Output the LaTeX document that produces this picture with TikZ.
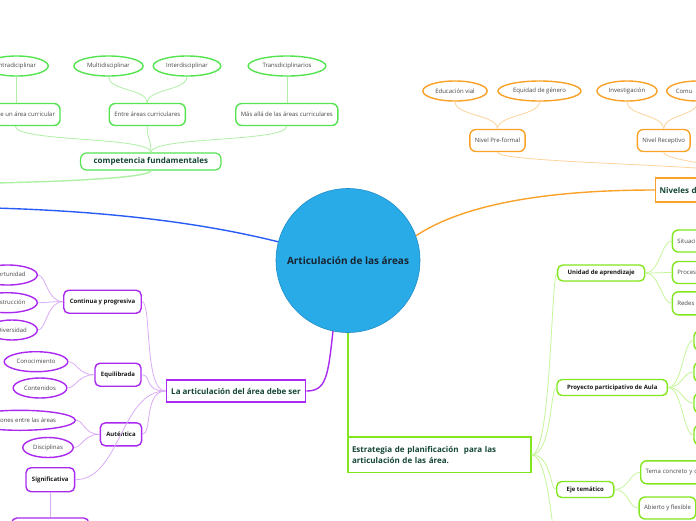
\documentclass[tikz,border=0pt]{standalone}
\usepackage{fontspec}
\setmainfont{Open Sans}
\usetikzlibrary{shapes.geometric}
\definecolor{raizazul}{RGB}{41,171,232}
\definecolor{raizborde}{RGB}{30,140,200}
\definecolor{textoraiz}{RGB}{25,35,45}
\definecolor{textotema}{RGB}{20,70,55}
\definecolor{textosub}{RGB}{25,25,25}
\definecolor{textohoja}{RGB}{70,70,70}
\definecolor{verde}{RGB}{85,228,80}
\definecolor{verdeclaro}{RGB}{175,240,165}
\definecolor{naranja}{RGB}{250,162,40}
\definecolor{naranjaclaro}{RGB}{252,212,155}
\definecolor{morado}{RGB}{170,40,240}
\definecolor{moradoclaro}{RGB}{218,172,246}
\definecolor{azul}{RGB}{40,92,245}
\definecolor{lima}{RGB}{130,230,30}
\definecolor{limaclaro}{RGB}{198,245,155}
\begin{document}
\begin{tikzpicture}[x=1pt, y=-1pt,
  raiz/.style={circle, fill=raizazul, draw=raizborde, line width=0.6pt, minimum size=144pt, inner sep=0pt, text=textoraiz, font=\bfseries\fontsize{10}{12}\selectfont},
  tema/.style={draw, line width=1.2pt, fill=white, text=textotema, inner xsep=5pt, inner ysep=0pt, minimum height=22pt, font=\bfseries\fontsize{8}{11}\selectfont},
  sub/.style={draw, rounded corners=5pt, line width=1.4pt, fill=white, text=textosub, inner xsep=6pt, inner ysep=0pt, minimum height=23pt, font=\bfseries\fontsize{6}{7.5}\selectfont},
  hoja/.style={draw, rounded corners=6pt, line width=1.4pt, fill=white, text=textohoja, inner xsep=5pt, inner ysep=0pt, minimum height=22pt, font=\fontsize{6}{7.5}\selectfont},
  ovalo/.style={ellipse, draw, line width=1.4pt, fill=white, text=textohoja, inner xsep=3pt, inner ysep=0pt, minimum height=20pt, font=\fontsize{6}{7.5}\selectfont},
  rama/.style={line width=1.4pt},
  enlace/.style={line width=0.8pt},
]
\useasboundingbox (0,0) rectangle (696,520);
\fill[white] (0,0) rectangle (696,520);
\clip (0,0) rectangle (696,520);

% Tema central
\node[raiz] (raiz) at (348,260.5) {Articulación de las áreas};

% Rama verde: competencia fundamentales
\node[tema, draw=verde, rounded corners=6pt, minimum height=17pt, inner xsep=13pt] (comp) at (150.8,161.5) {competencia fundamentales};
\node[hoja, draw=verde, anchor=east] (dentro) at (60.7,114.5) {Dentro de un área curricular};
\node[hoja, draw=verde] (entre) at (147.3,114.5) {Entre áreas curriculares};
\node[hoja, draw=verde] (mas) at (286.8,114.5) {Más allá de las áreas curriculares};
\node[ovalo, draw=verde, anchor=east] (intra) at (49,66) {Intradiciplinar};
\node[ovalo, draw=verde] (multi) at (108.5,66) {Multidisciplinar};
\node[ovalo, draw=verde] (inter) at (187,66) {Interdisciplinar};
\node[ovalo, draw=verde] (trans) at (287,66) {Transdiciplinarios};
\coordinate (compfin) at (-80,184);
\draw[enlace, verdeclaro] (intra.south) -- (intra.south |- dentro.north);
\draw[enlace, verdeclaro] (multi.south) .. controls +(0,14) and +(0,-14) .. (entre.north);
\draw[enlace, verdeclaro] (inter.south) .. controls +(0,14) and +(0,-14) .. (entre.north);
\draw[enlace, verdeclaro] (trans.south) -- (trans.south |- mas.north);
\draw[enlace, verdeclaro] (dentro.south) .. controls +(0,16) and +(0,-16) .. (comp.north);
\draw[enlace, verdeclaro] (entre.south) .. controls +(0,16) and +(0,-16) .. (comp.north);
\draw[enlace, verdeclaro] (mas.south) .. controls +(0,16) and +(0,-16) .. (comp.north);
\draw[rama, verdeclaro] (comp.south) .. controls +(0,10) and +(60,0) .. (compfin);

% Rama azul
\coordinate (azulfin) at (-80,207);
\draw[rama, azul] (raiz.165) .. controls +(-120,-30) and +(100,0) .. (azulfin);

% Rama naranja: niveles
\node[tema, draw=naranja, anchor=west, text width=110pt, align=left, inner xsep=4pt, minimum height=24pt] (niv) at (655,190) {Niveles de};
\draw[rama, naranja] (raiz.20) .. controls +(60,-40) and +(-70,0) .. (niv.west);
\node[hoja, draw=naranja] (pre) at (497.5,140.5) {Nivel Pre-formal};
\node[hoja, draw=naranja] (rec) at (663.7,140.5) {Nivel Receptivo};
\node[ovalo, draw=naranja] (vial) at (455,91) {Educación vial};
\node[ovalo, draw=naranja] (equi) at (539.5,91) {Equidad de género};
\node[ovalo, draw=naranja] (inv) at (627,91) {Investigación};
\node[ovalo, draw=naranja, anchor=west, inner xsep=0pt] (comu) at (666,91) {\makebox[44pt][l]{Comu}};
\coordinate (nivarriba) at (760,178);
\draw[enlace, naranjaclaro] (vial.south) .. controls +(0,14) and +(0,-14) .. (pre.north);
\draw[enlace, naranjaclaro] (equi.south) .. controls +(0,14) and +(0,-14) .. (pre.north);
\draw[enlace, naranjaclaro] (inv.south) .. controls +(0,14) and +(0,-14) .. (rec.north);
\draw[enlace, naranjaclaro] (comu.south) .. controls +(0,14) and +(0,-14) .. (rec.north);
\draw[enlace, naranjaclaro] (pre.south) .. controls +(0,12) and +(0,-14) .. (nivarriba);
\draw[enlace, naranjaclaro] (rec.south) .. controls +(0,10) and +(0,-10) .. (nivarriba);

% Rama morada: la articulacion debe ser
\node[tema, draw=morado] (debe) at (236,391) {La articulación del área debe ser};
\draw[rama, morado] (raiz.258) .. controls +(-5,45) and +(20,0) .. (debe.east);
\node[sub, draw=morado] (cont) at (102.5,301.7) {Continua y progresiva};
\node[sub, draw=morado] (equil) at (118,374.7) {Equilibrada};
\node[sub, draw=morado] (aut) at (121,434.3) {Auténtica};
\node[sub, draw=morado, minimum height=24pt] (sig) at (50.3,479.7) {Significativa};
\node[sub, draw=morado, minimum width=77pt, minimum height=24pt] (sigsub) at (50.3,530) {};
\node[ovalo, draw=morado, anchor=east] (opor) at (38,275) {Oportunidad};
\node[ovalo, draw=morado, anchor=east] (cons) at (38,302.7) {Construcción};
\node[ovalo, draw=morado, anchor=east] (div) at (38,330) {Diversidad};
\node[ovalo, draw=morado] (conoc) at (36,361.7) {Conocimiento};
\node[ovalo, draw=morado] (conte) at (40,388) {Contenidos};
\node[ovalo, draw=morado, anchor=east] (rel) at (76,420.3) {Relaciones entre las áreas};
\node[ovalo, draw=morado] (disc) at (48,447.5) {Disciplinas};
\draw[enlace, moradoclaro] (debe.west) .. controls +(-22,0) and +(10,0) .. (cont.east);
\draw[enlace, moradoclaro] (debe.west) .. controls +(-22,0) and +(10,0) .. (equil.east);
\draw[enlace, moradoclaro] (debe.west) .. controls +(-22,0) and +(10,0) .. (aut.east);
\draw[enlace, moradoclaro] (debe.west) .. controls +(-45,0) and +(45,0) .. (sig.east);
\draw[enlace, moradoclaro] (cont.west) .. controls +(-16,0) and +(8,0) .. (opor.east);
\draw[enlace, moradoclaro] (cont.west) .. controls +(-16,0) and +(8,0) .. (cons.east);
\draw[enlace, moradoclaro] (cont.west) .. controls +(-16,0) and +(8,0) .. (div.east);
\draw[enlace, moradoclaro] (equil.west) .. controls +(-16,0) and +(8,0) .. (conoc.east);
\draw[enlace, moradoclaro] (equil.west) .. controls +(-16,0) and +(8,0) .. (conte.east);
\draw[enlace, moradoclaro] (aut.west) .. controls +(-16,0) and +(8,0) .. (rel.east);
\draw[enlace, moradoclaro] (aut.west) .. controls +(-16,0) and +(8,0) .. (disc.east);
\draw[enlace, moradoclaro] (sig.south) -- (sigsub.north);

% Rama lima: estrategia de planificacion
\node[tema, draw=lima, text width=175pt, align=left, inner xsep=4pt, minimum height=35.7pt] (estr) at (439.5,454.8) {Estrategia de planificación\ \ para las\\articulación de las área.};
\draw[rama, lima] (raiz.south) -- (raiz.south |- estr.north);
\node[sub, draw=lima, minimum height=16pt, inner xsep=10pt] (unid) at (601.2,273) {Unidad de aprendizaje};
\node[sub, draw=lima, minimum height=16pt, inner xsep=10pt] (proy) at (612.2,387.5) {Proyecto participativo de Aula};
\node[sub, draw=lima, minimum height=16pt, inner xsep=10pt] (eje) at (585.3,489.5) {Eje temático};
\coordinate (estrsig) at (560,570);
\node[hoja, draw=lima, anchor=west, text width=50pt, align=left] (sit) at (671.7,241) {Situaci};
\node[hoja, draw=lima, anchor=west, text width=50pt, align=left] (proc) at (671.7,272.5) {Proces};
\node[hoja, draw=lima, anchor=west, text width=50pt, align=left, minimum height=23pt] (red) at (671.7,303.3) {Redes};
\node[hoja, draw=lima, anchor=west, minimum width=40pt, minimum height=20pt] (p1) at (693.3,340.5) {};
\node[hoja, draw=lima, anchor=west, minimum width=40pt, minimum height=20pt] (p2) at (693.3,372) {};
\node[hoja, draw=lima, anchor=west, minimum width=40pt, minimum height=20pt] (p3) at (693.3,403) {};
\node[hoja, draw=lima, anchor=west, minimum width=40pt, minimum height=20pt] (p4) at (693.3,435) {};
\node[hoja, draw=lima, anchor=west, text width=80pt, align=left, minimum height=23pt] (tema) at (640,472.3) {Tema concreto y d};
\node[hoja, draw=lima] (abi) at (667.5,508) {Abierto y flexible};
\draw[enlace, limaclaro] (estr.east) .. controls +(20,0) and +(-6,0) .. (unid.west);
\draw[enlace, limaclaro] (estr.east) .. controls +(20,0) and +(-6,0) .. (proy.west);
\draw[enlace, limaclaro] (estr.east) .. controls +(20,0) and +(-6,0) .. (eje.west);
\draw[enlace, limaclaro] (estr.east) .. controls +(20,0) and +(-6,0) .. (estrsig);
\draw[enlace, limaclaro] (unid.east) .. controls +(14,0) and +(-10,0) .. (sit.west);
\draw[enlace, limaclaro] (unid.east) .. controls +(14,0) and +(-10,0) .. (proc.west);
\draw[enlace, limaclaro] (unid.east) .. controls +(14,0) and +(-10,0) .. (red.west);
\draw[enlace, limaclaro] (proy.east) .. controls +(14,0) and +(-10,0) .. (p1.west);
\draw[enlace, limaclaro] (proy.east) .. controls +(14,0) and +(-10,0) .. (p2.west);
\draw[enlace, limaclaro] (proy.east) .. controls +(14,0) and +(-10,0) .. (p3.west);
\draw[enlace, limaclaro] (proy.east) .. controls +(14,0) and +(-10,0) .. (p4.west);
\draw[enlace, limaclaro] (eje.east) .. controls +(14,0) and +(-10,0) .. (tema.west);
\draw[enlace, limaclaro] (eje.east) .. controls +(14,0) and +(-10,0) .. (abi.west);
\end{tikzpicture}
\end{document}
